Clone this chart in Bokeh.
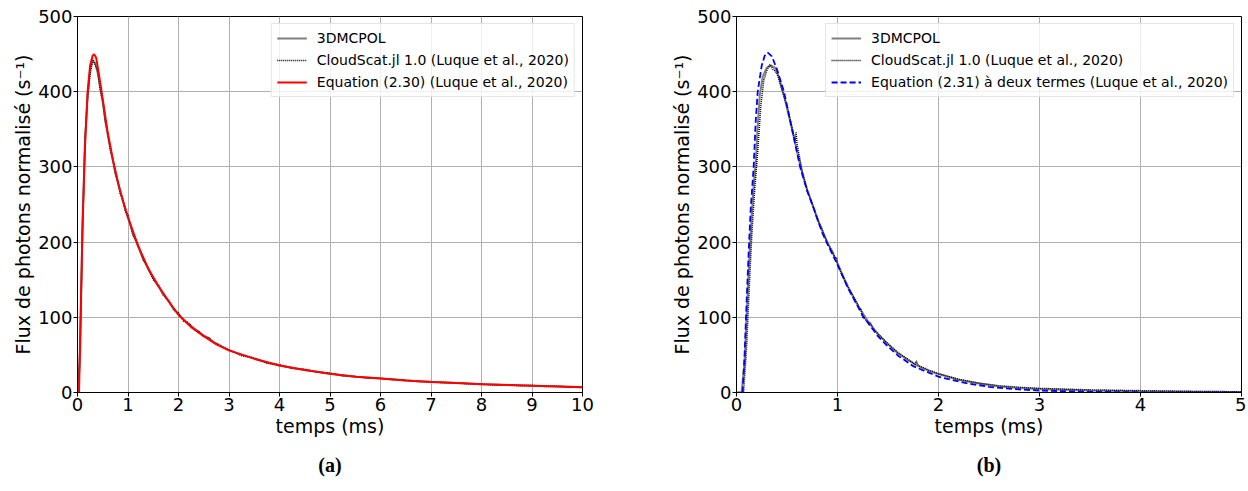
from bokeh.plotting import figure
from bokeh.models import Range1d, FixedTicker, Title
from bokeh.layouts import row
from bokeh.embed import file_html
from bokeh.resources import INLINE

# ---------------- Panel (a) data ----------------
t_a_sim = [0.00, 0.05, 0.10, 0.15, 0.20, 0.25, 0.30, 0.35, 0.40, 0.45, 0.50, 0.55, 0.60, 0.65,
           0.70, 0.75, 0.80, 0.85, 0.90, 0.95, 1.00, 1.10, 1.20, 1.30, 1.40, 1.50, 1.60, 1.70,
           1.80, 1.90, 2.00, 2.10, 2.20, 2.30, 2.40, 2.50, 2.60, 2.70, 2.80, 2.90, 3.00, 3.25,
           3.50, 3.75, 4.00, 4.25, 4.50, 4.75, 5.00, 5.25, 5.50, 5.75, 6.00, 6.25, 6.50, 6.75,
           7.00, 7.25, 7.50, 7.75, 8.00, 8.25, 8.50, 8.75, 9.00, 9.25, 9.50, 9.75, 10.0]
a_3dmcpol = [0, 40, 230, 335, 395, 428, 440, 438, 425, 405, 386, 362, 342, 325,
             308, 293, 279, 266, 254, 243, 232, 212, 194, 178, 164, 152, 141, 131,
             121, 112, 104, 97, 91, 86, 80, 76, 72, 67, 63, 60, 56, 50,
             45, 40, 36, 33, 30, 27.5, 25, 23, 21, 20, 18.5, 17.5, 16, 15,
             14, 13.5, 12.5, 12, 11, 10.5, 10, 9.5, 9, 8.5, 8, 7.5, 7]
a_cloudscat = [0, 60, 215, 340, 390, 425, 444, 436, 428, 402, 388, 360, 345, 322,
               311, 290, 281, 263, 257, 240, 236, 208, 197, 176, 166, 150, 143, 129,
               123, 110, 106, 95, 93, 84, 82, 74, 73, 66, 64, 59, 57, 49,
               46, 39, 37, 32, 31, 27, 26, 22, 21.5, 19, 19, 17, 16.5, 14.5,
               14.5, 13, 13, 11.5, 11.5, 10, 10.5, 9, 9.5, 8, 8.5, 7, 7.5]
t_a_eq = [0.03, 0.06, 0.10, 0.15, 0.20, 0.25, 0.30, 0.33, 0.37, 0.42, 0.50, 0.60, 0.70, 0.80,
          0.90, 1.00, 1.20, 1.40, 1.60, 1.80, 2.00, 2.25, 2.50, 2.75, 3.00, 3.50, 4.00, 4.50,
          5.00, 5.50, 6.00, 6.50, 7.00, 7.50, 8.00, 8.50, 9.00, 9.50, 10.0]
a_eq230 = [0, 100, 220, 330, 400, 435, 448, 450, 445, 425, 390, 345, 310, 280,
           255, 233, 195, 165, 142, 122, 103, 87, 75, 64, 56, 45, 36, 30,
           25, 21, 18.5, 16, 14, 12.5, 11, 10, 9, 8, 7]

# ---------------- Panel (b) data ----------------
t_b_3dm = [0.00, 0.05, 0.08, 0.10, 0.12, 0.15, 0.17, 0.19, 0.21, 0.23, 0.26, 0.30, 0.34, 0.38,
           0.42, 0.46, 0.50, 0.55, 0.60, 0.65, 0.70, 0.75, 0.80, 0.85, 0.90, 0.95, 1.00, 1.10,
           1.20, 1.30, 1.40, 1.50, 1.60, 1.70, 1.80, 1.90, 2.00, 2.20, 2.40, 2.60, 2.80, 3.00,
           3.50, 4.00, 4.50, 5.00]
b_3dmcpol = [0, 0, 40, 100, 160, 235, 275, 305, 355, 395, 420, 432, 435, 432,
             420, 400, 378, 350, 320, 292, 270, 250, 232, 215, 200, 186, 172, 141,
             116, 95, 78, 64, 52, 43, 35, 29, 24.5, 17, 12, 8, 6, 4.5,
             2.5, 1.5, 1, 0.5]
t_b_cs = [0.00, 0.07, 0.10, 0.13, 0.15, 0.18, 0.21, 0.24, 0.27, 0.30, 0.33, 0.36, 0.40, 0.45,
          0.50, 0.55, 0.58, 0.59, 0.60, 0.65, 0.70, 0.75, 0.80, 0.85, 0.90, 0.95, 0.98, 0.99,
          1.00, 1.05, 1.10, 1.20, 1.22, 1.23, 1.25, 1.30, 1.33, 1.35, 1.40, 1.50, 1.60, 1.70,
          1.77, 1.78, 1.80, 1.90, 2.00, 2.20, 2.40, 2.60, 2.80, 3.00, 3.50, 4.00, 4.50, 5.00]
b_cloudscat = [0, 0, 60, 150, 205, 270, 320, 380, 415, 428, 436, 430, 425, 402,
               382, 352, 335, 346, 330, 295, 268, 252, 230, 216, 198, 188, 178, 180,
               170, 155, 142, 118, 110, 112, 100, 94, 92, 85, 78, 65, 53, 44,
               37, 42, 36, 30, 25, 17.5, 12.5, 9, 7, 5.5, 3.5, 2.5, 1.5, 1]
t_b_eq = [0.06, 0.08, 0.10, 0.12, 0.14, 0.17, 0.19, 0.21, 0.25, 0.28, 0.31, 0.35, 0.40, 0.47,
          0.55, 0.63, 0.70, 0.77, 0.85, 0.92, 1.00, 1.10, 1.25, 1.40, 1.50, 1.60, 1.75, 2.00,
          2.25, 2.50, 2.75, 3.00, 3.50, 4.00, 4.50, 5.00]
b_eq231 = [0, 50, 120, 185, 243, 300, 360, 400, 435, 448, 452, 447, 430, 400,
           350, 300, 268, 243, 212, 192, 170, 140, 102, 75, 61, 49, 35, 21,
           13, 7.5, 4.5, 2.6, 0.9, 0.3, 0.1, 0]

x_ticks_a = [0, 1, 2, 3, 4, 5, 6, 7, 8, 9, 10]
x_ticks_b = [0, 1, 2, 3, 4, 5]
y_ticks = [0, 100, 200, 300, 400, 500]

xlabel = "temps (ms)"
ylabel = "Flux de photons normalisé (s⁻¹)"
lbl_3dm = "3DMCPOL"
lbl_cs = "CloudScat.jl 1.0 (Luque et al., 2020)"
lbl_a = "Equation (2.30) (Luque et al., 2020)"
lbl_b = "Equation (2.31) à deux termes (Luque et al., 2020)"

FONT = "DejaVu Sans"


def make_fig(xmax, xticks, bl, br, caption):
    p = figure(frame_width=505, frame_height=376,
               x_range=Range1d(0, xmax), y_range=Range1d(0, 500),
               output_backend="svg", toolbar_location=None,
               min_border_left=bl, min_border_right=br,
               min_border_top=16, min_border_bottom=98,
               background_fill_color="white", border_fill_color="white")
    p.xaxis.ticker = FixedTicker(ticks=xticks)
    p.yaxis.ticker = FixedTicker(ticks=y_ticks)
    p.xaxis.axis_label = xlabel
    p.yaxis.axis_label = ylabel
    for ax in (p.xaxis[0], p.yaxis[0]):
        ax.major_label_text_font = FONT
        ax.major_label_text_font_size = "18px"
        ax.major_label_text_color = "black"
        ax.axis_label_text_font = FONT
        ax.axis_label_text_font_size = "19px"
        ax.axis_label_text_font_style = "normal"
        ax.axis_label_text_color = "black"
        ax.major_tick_out = 4
        ax.major_tick_in = 0
        ax.minor_tick_out = 0
        ax.minor_tick_in = 0
        ax.axis_line_color = "black"
        ax.major_tick_line_color = "black"
        ax.major_label_standoff = 1
        ax.axis_label_standoff = 1
    p.outline_line_color = "black"
    p.outline_line_width = 1
    p.outline_line_alpha = 1
    p.grid.grid_line_color = "#b0b0b0"
    p.grid.grid_line_width = 1
    p.add_layout(Title(text=caption, align="center", text_font="Liberation Serif",
                       text_font_style="bold", text_font_size="20px",
                       text_color="black", standoff=24, vertical_align="bottom"), "below")
    return p


def style_legend(p):
    lg = p.legend[0]
    lg.location = "top_right"
    lg.margin = 7
    lg.padding = 5
    lg.spacing = 4
    lg.glyph_width = 30
    lg.glyph_height = 18
    lg.label_height = 18
    lg.label_standoff = 10
    lg.label_text_font = FONT
    lg.label_text_font_size = "14px"
    lg.label_text_color = "black"
    lg.border_line_color = "#cccccc"
    lg.border_line_width = 1
    lg.background_fill_alpha = 0.8


pa = make_fig(10, x_ticks_a, 77, 58, "(a)")
pa.line(t_a_sim, a_3dmcpol, color="#808080", line_width=2, legend_label=lbl_3dm)
pa.line(t_a_sim, a_cloudscat, color="black", line_width=1.5, line_dash="1 1", legend_label=lbl_cs)
pa.line(t_a_eq, a_eq230, color="red", line_width=2, legend_label=lbl_a)
style_legend(pa)

pb = make_fig(5, x_ticks_b, 96, 5, "(b)")
pb.line(t_b_3dm, b_3dmcpol, color="#808080", line_width=2, legend_label=lbl_3dm)
pb.line(t_b_cs, b_cloudscat, color="black", line_width=1.5, line_dash="1 1", legend_label=lbl_cs)
pb.line(t_b_eq, b_eq231, color="blue", line_width=1.8, line_dash="6 3", legend_label=lbl_b)
style_legend(pb)

layout = row(pa, pb)
open("out.html", "w").write(file_html(layout, INLINE))
